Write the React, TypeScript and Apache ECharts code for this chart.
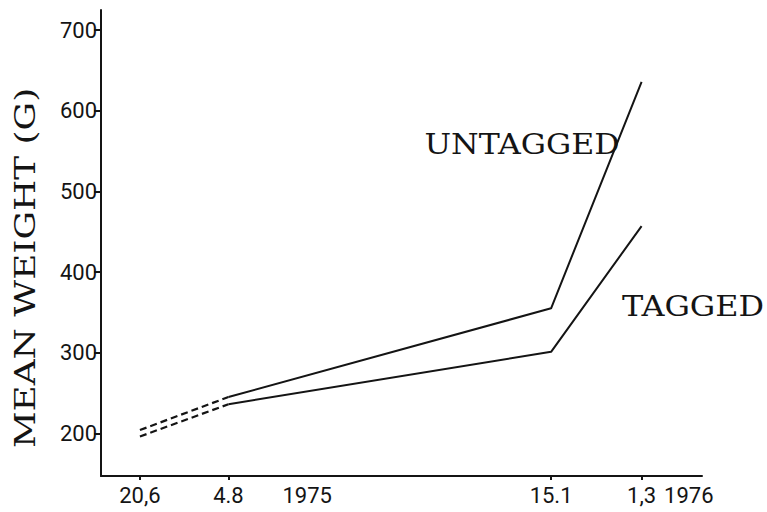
import React, { useEffect, useRef } from "react";
import * as echarts from "echarts";

// ---- data ----
const sampleDates = ["1975-06-20", "1975-08-04", "1976-01-15", "1976-03-01"];
const dateLabels = ["20,6", "4.8", "15.1", "1,3"];
const untagged = [204, 245, 355, 636];
const tagged = [196, 236, 301, 457];
const yTicks = [200, 300, 400, 500, 600, 700];
const yearLabelDates = ["1975-09-13", "1976-03-25"];
const yearLabels = ["1975", "1976"];
const yTitle = "MEAN WEIGHT (G)";
const seriesNames = ["UNTAGGED", "TAGGED"];

const EPOCH = Date.UTC(1975, 0, 1);
const day = (d: string) => Math.round((Date.parse(d + "T00:00:00Z") - EPOCH) / 86400000);

export default function App() {
  const ref = useRef<HTMLDivElement>(null);
  useEffect(() => {
    document.body.style.margin = "0";
    if (!ref.current) return;
    const chart = echarts.init(ref.current, undefined, { renderer: "svg" });

    const labelMap: Record<number, string> = {};
    sampleDates.forEach((d, i) => (labelMap[day(d)] = dateLabels[i]));
    yearLabelDates.forEach((d, i) => (labelMap[day(d)] = yearLabels[i]));

    const pts = (vals: number[], from: number, to: number) =>
      sampleDates.slice(from, to).map((d, i) => [day(d), vals[from + i]]);

    const ink = "#141414";
    const dashed = { color: ink, width: 2.2, type: [7, 4] as any };
    const solid = { color: ink, width: 2 };

    const xMin = (Date.UTC(1975, 4, 31, 5) - EPOCH) / 86400000;
    const xMax = (Date.UTC(1976, 2, 31, 17) - EPOCH) / 86400000;

    const serif = "DejaVu Serif";

    chart.setOption({
      animation: false,
      backgroundColor: "#ffffff",
      grid: { left: 101, right: 65, top: 10, bottom: 36 },
      xAxis: {
        type: "value",
        min: xMin,
        max: xMax,
        axisLine: { lineStyle: { color: ink, width: 2 } },
        splitLine: { show: false },
        axisTick: {
          show: true,
          length: 4,
          lineStyle: { color: ink, width: 2 },
          customValues: sampleDates.map(day),
        },
        axisLabel: {
          customValues: [...sampleDates, ...yearLabelDates].map(day),
          formatter: (v: number) => labelMap[Math.round(v)] ?? "",
          color: ink,
          fontSize: 22,
          fontFamily: "Roboto",
          margin: 8,
          hideOverlap: false,
        },
      },
      yAxis: {
        type: "value",
        min: 147,
        max: 725,
        axisLine: { show: true, lineStyle: { color: ink, width: 2 } },
        splitLine: { show: false },
        axisTick: {
          show: true,
          length: 7,
          lineStyle: { color: ink, width: 2 },
          customValues: yTicks,
        },
        axisLabel: {
          customValues: yTicks,
          color: ink,
          fontSize: 22,
          fontFamily: "Roboto",
          margin: 4,
        },
      },
      graphic: [
        {
          type: "text",
          x: 25,
          y: 268,
          rotation: Math.PI / 2,
          scaleX: 1.28,
          style: {
            text: yTitle,
            fill: ink,
            fontFamily: serif,
            fontSize: 28,
            align: "center",
            verticalAlign: "middle",
          },
        },
        {
          type: "text",
          x: 522,
          y: 145,
          scaleX: 1.17,
          style: {
            text: seriesNames[0],
            fill: ink,
            fontFamily: serif,
            fontSize: 27,
            align: "center",
            verticalAlign: "middle",
          },
        },
        {
          type: "text",
          x: 693,
          y: 307,
          scaleX: 1.18,
          style: {
            text: seriesNames[1],
            fill: ink,
            fontFamily: serif,
            fontSize: 27,
            align: "center",
            verticalAlign: "middle",
          },
        },
      ],
      series: [
        {
          name: seriesNames[0] + " (early)",
          type: "line",
          data: pts(untagged, 0, 2),
          showSymbol: false,
          lineStyle: dashed,
        },
        {
          name: seriesNames[0],
          type: "line",
          data: pts(untagged, 1, 4),
          showSymbol: false,
          lineStyle: solid,
        },
        {
          name: seriesNames[1] + " (early)",
          type: "line",
          data: pts(tagged, 0, 2),
          showSymbol: false,
          lineStyle: dashed,
        },
        {
          name: seriesNames[1],
          type: "line",
          data: pts(tagged, 1, 4),
          showSymbol: false,
          lineStyle: solid,
        },
      ],
    });
    return () => chart.dispose();
  }, []);
  return <div ref={ref} style={{ width: 767, height: 512 }} />;
}
